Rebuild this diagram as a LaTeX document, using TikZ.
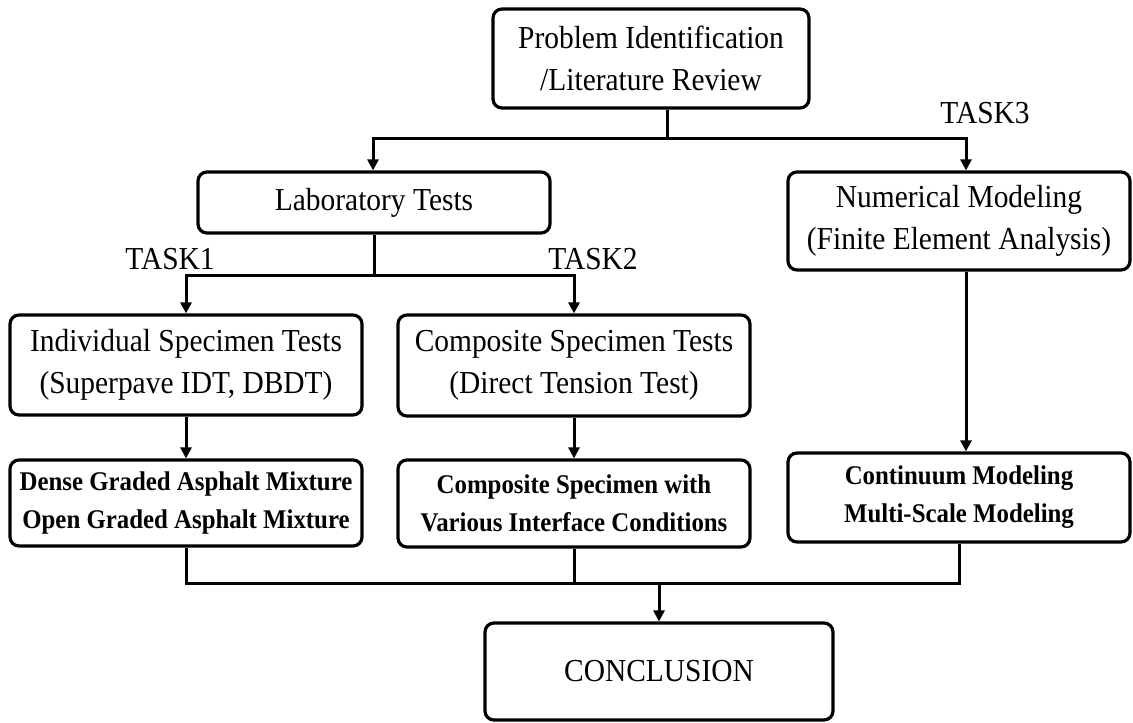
\documentclass[tikz,border=0pt]{standalone}
\usepackage{fontspec}
\setmainfont{Liberation Serif}[FakeStretch=0.92]
\usetikzlibrary{arrows.meta}
\begin{document}
\begin{tikzpicture}[x=1pt,y=-1pt,
  box/.style={draw, line width=3.2pt, rounded corners=9pt, align=center, inner sep=0pt,
              font=\fontsize{32}{42}\selectfont},
  bbox/.style={box, font=\fontsize{27}{38}\selectfont\bfseries},
  conn/.style={line width=3pt},
  arr/.style={conn, -{Triangle[length=11pt,width=11pt]}},
  lbl/.style={font=\fontsize{32}{42}\selectfont, inner sep=0pt}]
\useasboundingbox (0,0) rectangle (1133,723);

% boxes
\node[box, minimum width=316pt, minimum height=99pt]  (top)   at (651,58.5)  {Problem Identification\\/Literature Review};
\node[box, minimum width=352pt, minimum height=61pt]  (lab)   at (374,202.5) {Laboratory Tests};
\node[box, minimum width=342pt, minimum height=98pt]  (num)   at (959,221)   {Numerical Modeling\\(Finite Element Analysis)};
\node[box, minimum width=352pt, minimum height=100pt] (ind)   at (186,365)   {Individual Specimen Tests\\(Superpave IDT, DBDT)};
\node[box, minimum width=352pt, minimum height=101pt] (comp)  at (574,365.5) {Composite Specimen Tests\\(Direct Tension Test)};
\node[bbox, minimum width=352pt, minimum height=86pt] (dense) at (186,503)   {Dense Graded Asphalt Mixture\\Open Graded Asphalt Mixture};
\node[bbox, minimum width=352pt, minimum height=87pt] (compw) at (574,503.5) {Composite Specimen with\\Various Interface Conditions};
\node[bbox, minimum width=342pt, minimum height=89pt] (cont)  at (959,497.5) {Continuum Modeling\\Multi-Scale Modeling};
\node[box, minimum width=348pt, minimum height=97pt]  (concl) at (659,671.5) {CONCLUSION};

% labels
\node[lbl] (t1) at (170,259) {TASK1};
\node[lbl] (t2) at (593,259) {TASK2};
\node[lbl] (t3) at (985,113) {TASK3};

% connectors
\coordinate (j1) at (667,138);
\coordinate (d1) at (373,138);
\coordinate (d3) at (966,138);
\draw[conn] (top.south -| j1) -- (j1);
\draw[arr] (j1) -| (lab.north -| d1);
\draw[arr] (j1) -| (num.north -| d3);

\coordinate (j2) at (374,275);
\draw[conn] (lab.south) -- (j2);
\draw[arr] (j2) -| (ind.north);
\draw[arr] (j2) -| (comp.north);

\draw[arr] (ind.south) -- (dense.north);
\draw[arr] (comp.south) -- (compw.north);
\draw[arr] (num.south -| d3) -- (cont.north -| d3);

\coordinate (j3) at (659,583);
\draw[conn] (dense.south) |- (j3) -| (cont.south);
\draw[conn] (compw.south) -- (compw.south |- j3);
\draw[arr] (j3) -- (concl.north);
\end{tikzpicture}
\end{document}
